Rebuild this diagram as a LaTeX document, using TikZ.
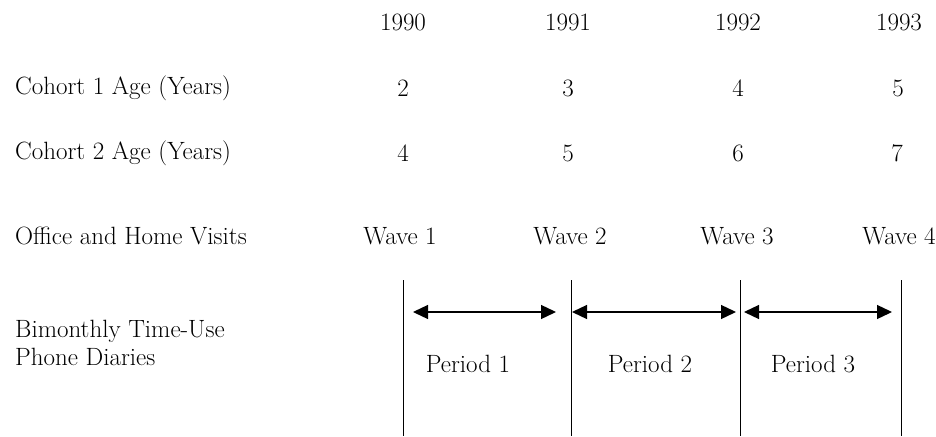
\documentclass[tikz,border=0pt]{standalone}
\usetikzlibrary{arrows.meta}
\begin{document}
\begin{tikzpicture}[x=1pt,y=-1pt,
  txt/.style={font=\fontsize{25}{28}\selectfont, inner sep=0pt},
  lbl/.style={txt, anchor=west},
  val/.style={txt, anchor=center},
  divider/.style={line width=0.9pt},
  span/.style={line width=1.3pt, {Triangle[length=15pt,width=14pt]}-{Triangle[length=15pt,width=14pt]}}]
\useasboundingbox (0,0) rectangle (936,436);
% years
\node[val] (y0) at (403,22) {1990};
\node[val] (y1) at (568,22) {1991};
\node[val] (y2) at (738,22) {1992};
\node[val] (y3) at (899,22) {1993};
% cohort 1
\node[lbl] (c1) at (15,88) {Cohort 1 Age (Years)};
\node[val] (a0) at (403,88) {2};
\node[val] (a1) at (568,88) {3};
\node[val] (a2) at (738,88) {4};
\node[val] (a3) at (898,88) {5};
% cohort 2
\node[lbl] (c2) at (15,153) {Cohort 2 Age (Years)};
\node[val] (b0) at (403,153) {4};
\node[val] (b1) at (568,153) {5};
\node[val] (b2) at (738,153) {6};
\node[val] (b3) at (897,153) {7};
% visits
\node[lbl] (ov) at (15,236) {Office and Home Visits};
\node[val] (w0) at (400,236) {Wave 1};
\node[val] (w1) at (570,236) {Wave 2};
\node[val] (w2) at (737,236) {Wave 3};
\node[val] (w3) at (899,236) {Wave 4};
% diaries
\node[lbl, align=left] (bd) at (15,343) {Bimonthly Time-Use\\Phone Diaries};
% dividers
\coordinate (t0) at (403,280); \coordinate (d0) at (403,436);
\coordinate (t1) at (571,280); \coordinate (d1) at (571,436);
\coordinate (t2) at (740,280); \coordinate (d2) at (740,436);
\coordinate (t3) at (901,280); \coordinate (d3) at (901,436);
\draw[divider] (t0) -- (d0);
\draw[divider] (t1) -- (d1);
\draw[divider] (t2) -- (d2);
\draw[divider] (t3) -- (d3);
% arrows
\coordinate (p0s) at (413,312); \coordinate (p0e) at (556,312);
\coordinate (p1s) at (572,312); \coordinate (p1e) at (736,312);
\coordinate (p2s) at (744,312); \coordinate (p2e) at (892,312);
\draw[span] (p0s) -- (p0e);
\draw[span] (p1s) -- (p1e);
\draw[span] (p2s) -- (p2e);
\node[val] (q0) at (468,364) {Period 1};
\node[val] (q1) at (650,364) {Period 2};
\node[val] (q2) at (813,364) {Period 3};
\end{tikzpicture}
\end{document}
